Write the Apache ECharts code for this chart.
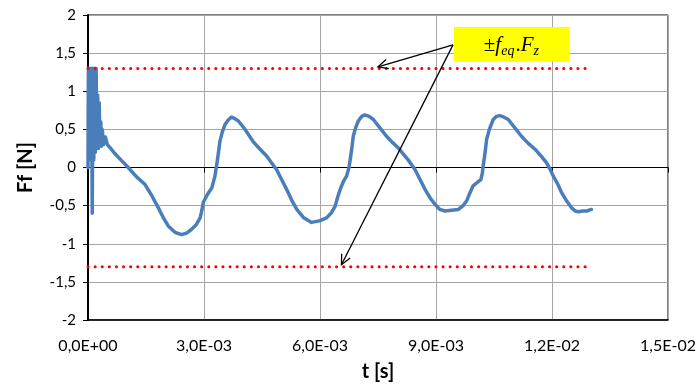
<!DOCTYPE html>
<html>
<head>
<meta charset="utf-8">
<script src="https://cdn.jsdelivr.net/npm/echarts@6/dist/echarts.min.js"></script>
<style>
html,body{margin:0;padding:0;background:#fff;}
#chart{width:699px;height:387px;}
</style>
</head>
<body>
<div id="chart"></div>
<script>
// time [s]
const tSec = [
  0, 0.01e-3, 0.03e-3, 0.05e-3, 0.07e-3, 0.09e-3, 0.11e-3, 0.13e-3, 0.15e-3, 0.17e-3,
  0.19e-3, 0.21e-3, 0.23e-3, 0.25e-3, 0.27e-3, 0.29e-3, 0.31e-3, 0.33e-3, 0.35e-3, 0.37e-3,
  0.40e-3, 0.45e-3, 0.50e-3, 0.57e-3, 0.70e-3, 0.85e-3, 1.04e-3, 1.25e-3, 1.47e-3, 1.65e-3,
  1.82e-3, 1.95e-3, 2.08e-3, 2.25e-3, 2.42e-3, 2.55e-3, 2.68e-3, 2.80e-3, 2.90e-3, 2.95e-3,
  2.98e-3, 3.08e-3, 3.20e-3, 3.28e-3, 3.33e-3, 3.38e-3, 3.41e-3, 3.47e-3, 3.54e-3, 3.62e-3,
  3.71e-3, 3.80e-3, 3.89e-3, 3.97e-3, 4.06e-3, 4.27e-3, 4.45e-3, 4.62e-3, 4.75e-3, 4.88e-3,
  5.00e-3, 5.14e-3, 5.27e-3, 5.40e-3, 5.58e-3, 5.78e-3, 5.98e-3, 6.17e-3, 6.30e-3, 6.39e-3,
  6.45e-3, 6.52e-3, 6.60e-3, 6.69e-3, 6.75e-3, 6.78e-3, 6.83e-3, 6.86e-3, 6.92e-3, 6.99e-3,
  7.08e-3, 7.16e-3, 7.27e-3, 7.38e-3, 7.55e-3, 7.72e-3, 7.87e-3, 8.02e-3, 8.15e-3, 8.28e-3,
  8.46e-3, 8.60e-3, 8.72e-3, 8.85e-3, 8.97e-3, 9.10e-3, 9.23e-3, 9.40e-3, 9.58e-3, 9.70e-3,
  9.79e-3, 9.88e-3, 9.96e-3, 10.08e-3, 10.16e-3, 10.20e-3, 10.22e-3, 10.27e-3, 10.31e-3, 10.38e-3,
  10.48e-3, 10.56e-3, 10.65e-3, 10.76e-3, 10.87e-3, 11.04e-3, 11.21e-3, 11.38e-3, 11.56e-3, 11.72e-3,
  11.86e-3, 11.95e-3, 12.03e-3, 12.15e-3, 12.25e-3, 12.38e-3, 12.51e-3, 12.60e-3, 12.68e-3, 12.80e-3,
  12.90e-3, 13.02e-3
];
// friction force Ff [N]
const ffN = [
  0, 1.3, 0.2, 1.3, 0.1, 1.3, -0.6, 1.3, 0.1, 1.3,
  0.2, 1.3, 0.3, 0.95, 0.25, 0.85, 0.3, 0.6, 0.28, 0.5,
  0.3, 0.4, 0.3, 0.26, 0.18, 0.1, 0.0, -0.12, -0.22, -0.37,
  -0.53, -0.66, -0.77, -0.85, -0.88, -0.86, -0.81, -0.75, -0.66, -0.55,
  -0.46, -0.36, -0.27, -0.12, 0.04, 0.22, 0.34, 0.46, 0.56, 0.62,
  0.66, 0.64, 0.61, 0.56, 0.50, 0.34, 0.24, 0.15, 0.06, -0.03,
  -0.15, -0.29, -0.43, -0.55, -0.66, -0.72, -0.70, -0.66, -0.59, -0.51,
  -0.40, -0.29, -0.19, -0.11, 0.0, 0.10, 0.28, 0.41, 0.52, 0.61,
  0.67, 0.69, 0.67, 0.63, 0.52, 0.41, 0.33, 0.26, 0.18, 0.10,
  -0.03, -0.17, -0.29, -0.40, -0.48, -0.55, -0.57, -0.56, -0.55, -0.50,
  -0.44, -0.33, -0.24, -0.19, -0.16, -0.07, 0.02, 0.20, 0.37, 0.50,
  0.63, 0.67, 0.68, 0.66, 0.63, 0.52, 0.41, 0.32, 0.24, 0.15,
  0.06, -0.02, -0.11, -0.22, -0.33, -0.44, -0.53, -0.57, -0.58, -0.57,
  -0.57, -0.55
];
// friction limit ±f_eq·F_z
const limitT = [0, 0.0129];
const limitUpper = [1.3, 1.3];
const limitLower = [-1.3, -1.3];

const chart = echarts.init(document.getElementById('chart'), null, {renderer: 'canvas'});

const xFmt = v => v.toExponential(1).replace('.', ',').replace(/e([+-])(\d)$/, 'E$10$2');
const yFmt = v => String(Math.round(v * 10) / 10).replace('.', ',');

const gridLine = {show: true, lineStyle: {color: '#a6a6a6', width: 1}};
const dotted = {color: '#ff0000', width: 3, type: [0.1, 7], cap: 'round'};

const option = {
  animation: false,
  backgroundColor: '#fff',
  grid: {left: 88, top: 15, right: 31, bottom: 66, show: true, borderColor: '#000', borderWidth: 1, containLabel: false},
  xAxis: [{
    type: 'value', min: 0, max: 0.015, interval: 0.003,
    axisLine: {onZero: false, lineStyle: {color: '#000', width: 1.5}},
    axisTick: {show: false},
    splitLine: gridLine,
    axisLabel: {formatter: xFmt, color: '#000', fontFamily: 'Lato', fontSize: 16, margin: 18},
    name: 't [s]', nameLocation: 'middle', nameGap: 42,
    nameTextStyle: {color: '#000', fontFamily: 'Lato', fontWeight: 'bold', fontSize: 20}
  }, {
    type: 'value', min: 0, max: 0.015, interval: 0.003, position: 'bottom',
    axisLine: {onZero: true, lineStyle: {color: '#000', width: 1}},
    axisTick: {show: true, length: 5, lineStyle: {color: '#000'}},
    axisLabel: {show: false},
    splitLine: {show: false}
  }],
  yAxis: {
    type: 'value', min: -2, max: 2, interval: 0.5,
    axisLine: {show: true, lineStyle: {color: '#000', width: 2}},
    axisTick: {show: true, length: 5, lineStyle: {color: '#000'}},
    splitLine: gridLine,
    axisLabel: {formatter: yFmt, color: '#000', fontFamily: 'Lato', fontSize: 15, margin: 12},
    name: 'Ff [N]', nameLocation: 'middle', nameGap: 52,
    nameTextStyle: {color: '#000', fontFamily: 'Lato', fontWeight: 'bold', fontSize: 20}
  },
  series: [{
    type: 'line', name: 'Ff', xAxisIndex: 0,
    data: tSec.map((t, i) => [t, ffN[i]]),
    showSymbol: false, symbol: 'none',
    lineStyle: {color: '#4a7ebb', width: 3.5, join: 'round', cap: 'round'},
    z: 3
  }, {
    type: 'line', name: 'upper', xAxisIndex: 0,
    data: limitT.map((t, i) => [t, limitUpper[i]]),
    symbol: 'none', lineStyle: dotted, z: 4
  }, {
    type: 'line', name: 'lower', xAxisIndex: 0,
    data: limitT.map((t, i) => [t, limitLower[i]]),
    symbol: 'none', lineStyle: dotted, z: 4
  }]
};
chart.setOption(option);

// annotation (callout with two arrows)
const px = p => chart.convertToPixel({xAxisIndex: 0, yAxisIndex: 0}, p);
const start = px([9.44e-3, 1.608]);
const ends = [px([7.5e-3, 1.32]), px([6.555e-3, -1.275])];
const boxTL = px([9.465e-3, 1.843]);
const boxBR = px([12.46e-3, 1.386]);

function arrow(a, b) {
  const ang = Math.atan2(b[1] - a[1], b[0] - a[0]);
  const L = 11, w = 0.45;
  const p1 = [b[0] - L * Math.cos(ang - w), b[1] - L * Math.sin(ang - w)];
  const p2 = [b[0] - L * Math.cos(ang + w), b[1] - L * Math.sin(ang + w)];
  return [
    {type: 'line', shape: {x1: a[0], y1: a[1], x2: b[0], y2: b[1]}, style: {stroke: '#000', lineWidth: 1.3}, z: 10},
    {type: 'polyline', shape: {points: [p1, b, p2]}, style: {stroke: '#000', lineWidth: 1.3, fill: null}, z: 10}
  ];
}
const graphics = [];
ends.forEach(e => graphics.push(...arrow(start, e)));
graphics.push({
  type: 'rect', shape: {x: boxTL[0], y: boxTL[1], width: boxBR[0] - boxTL[0], height: boxBR[1] - boxTL[1]},
  style: {fill: '#ffff00', stroke: null}, z: 11
});
graphics.push({
  type: 'text', x: (boxTL[0] + boxBR[0]) / 2, y: (boxTL[1] + boxBR[1]) / 2 + 1, z: 12,
  style: {
    text: '{n|±}{i|f}{s|eq}{n|.}{i|F}{s|z}',
    align: 'center', verticalAlign: 'middle',
    rich: {
      n: {fontFamily: 'Liberation Serif', fontSize: 21, fill: '#000'},
      i: {fontFamily: 'Liberation Serif', fontStyle: 'italic', fontSize: 21, fill: '#000'},
      s: {fontFamily: 'Liberation Serif', fontStyle: 'italic', fontSize: 14, fill: '#000', padding: [11, 1, 0, 0]}
    }
  }
});
chart.setOption({graphic: graphics});
</script>
</body>
</html>
